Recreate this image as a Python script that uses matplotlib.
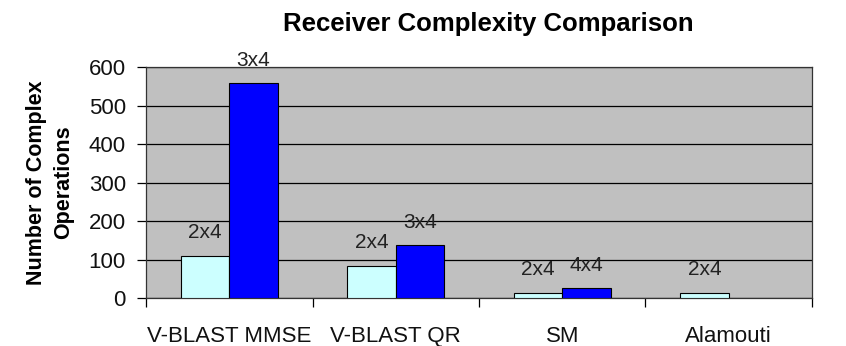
import numpy as np
import matplotlib
matplotlib.use("Agg")
import matplotlib.pyplot as plt

plt.rcParams["font.family"] = ["Liberation Sans", "DejaVu Sans"]

categories = ["V-BLAST MMSE", "V-BLAST QR", "SM", "Alamouti"]
first_vals = [108, 82, 12, 12]
first_labels = ["2x4", "2x4", "2x4", "2x4"]
second_vals = [560, 138, 27, None]
second_labels = ["3x4", "3x4", "4x4", None]

fig = plt.figure(figsize=(8.46, 3.46), dpi=100)
ax = fig.add_axes([0.1726, 0.1387, 0.9598 - 0.1726, 0.806 - 0.1387])
ax.set_facecolor("#C0C0C0")

x = np.arange(len(categories))
w = 0.29

for i in range(len(categories)):
    ax.bar(x[i] - w / 2, first_vals[i], w, color="#CCFFFF", edgecolor="black", linewidth=0.8, zorder=3)
    ax.annotate(first_labels[i], (x[i] - w / 2, first_vals[i]), xytext=(0, 17), textcoords="offset points",
                ha="center", va="center", fontsize=15, color="#222222")
    if second_vals[i] is not None:
        ax.bar(x[i] + w / 2, second_vals[i], w, color="#0000FF", edgecolor="black", linewidth=0.8, zorder=3)
        ax.annotate(second_labels[i], (x[i] + w / 2, second_vals[i]), xytext=(0, 16), textcoords="offset points",
                    ha="center", va="center", fontsize=15, color="#222222", annotation_clip=False)

ax.set_xlim(-0.5, len(categories) - 0.5)
ax.set_ylim(0, 600)
ax.set_yticks(range(0, 601, 100))
ax.yaxis.grid(True, color="black", linewidth=0.9, zorder=1)
ax.set_axisbelow(True)

ax.set_xticks(x)
ax.set_xticklabels(categories, fontsize=16, color="#111111")
ax.set_xticks(np.arange(-0.5, len(categories), 1.0), minor=True)
ax.tick_params(axis="x", which="major", length=0, pad=20)
ax.tick_params(axis="x", which="minor", length=6.5, width=0.9, direction="out")
ax.tick_params(axis="y", length=6.5, width=0.9, labelsize=16, pad=8, labelcolor="#111111")

for s in ax.spines.values():
    s.set_color("#333333")
    s.set_linewidth(0.9)

ax.set_ylabel("Number of Complex\nOperations", fontsize=15.5, fontweight="bold", linespacing=1.4)
ax.yaxis.set_label_coords(-0.108, 0.5)
fig.suptitle("Receiver Complexity Comparison", x=0.577, y=0.965, fontsize=18.5, fontweight="bold")

fig.savefig("out.png", dpi=100)
